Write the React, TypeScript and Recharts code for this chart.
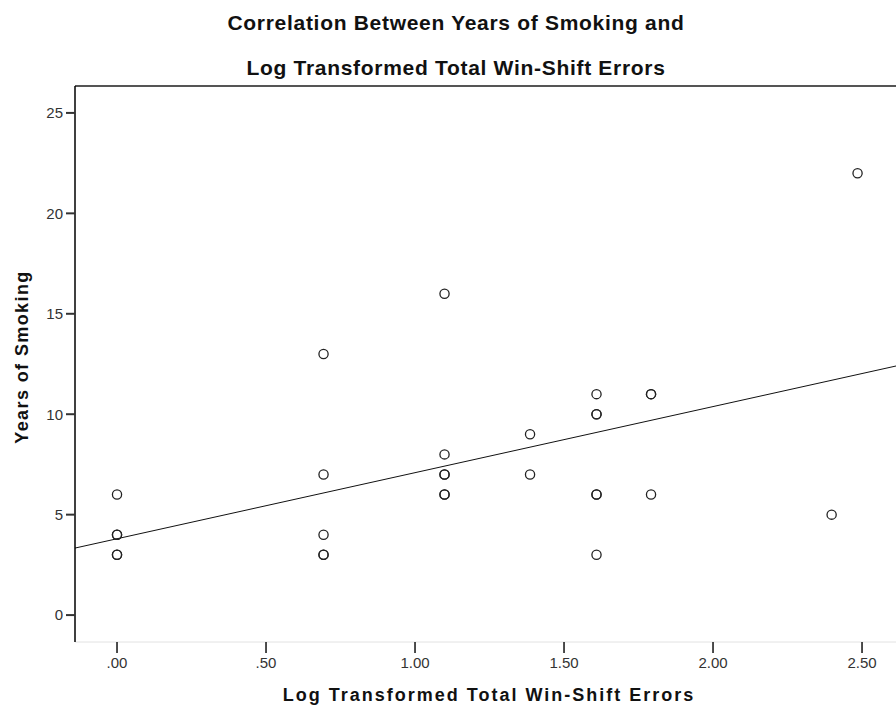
import { ScatterChart, Scatter, XAxis, YAxis, ReferenceLine } from "recharts";

// log-transformed total win-shift errors (ln of raw error count)
const logErrors = [
  0, 0, 0, 0, 0,
  0.693, 0.693, 0.693, 0.693, 0.693,
  1.099, 1.099, 1.099, 1.099, 1.099, 1.099,
  1.386, 1.386,
  1.609, 1.609, 1.609, 1.609, 1.609, 1.609,
  1.792, 1.792, 1.792,
  2.398,
  2.485,
];
const yearsSmoking = [
  6, 4, 4, 3, 3,
  13, 7, 4, 3, 3,
  16, 8, 7, 7, 6, 6,
  9, 7,
  11, 10, 10, 6, 6, 3,
  11, 11, 6,
  5,
  22,
];

const xTicks = [0, 0.5, 1, 1.5, 2, 2.5];
const yTicks = [0, 5, 10, 15, 20, 25];
const xDomain: [number, number] = [-0.141, 2.614];
const yDomain: [number, number] = [-1.34, 26.34];

// linear fit line
const fitIntercept = 3.8;
const fitSlope = 3.29;

const points = logErrors.map((x, i) => ({ x, y: yearsSmoking[i] }));
const fitSegment = xDomain.map((x) => ({ x, y: fitIntercept + fitSlope * x }));

const fmtX = (v: number) => {
  const s = v.toFixed(2);
  return s.startsWith("0") ? s.slice(1) : s;
};

const Ring = (props: any) => {
  const { cx, cy } = props;
  if (cx == null || cy == null) return null;
  return <circle cx={cx} cy={cy} r={4.6} fill="none" stroke="#222" strokeWidth={1.3} />;
};

const font = "'Liberation Sans', Arial, sans-serif";

export default function App() {
  return (
    <div style={{ position: "absolute", left: 0, top: 0, width: 896, height: 711, background: "#fff", fontFamily: font }}>
      <ScatterChart width={896} height={711} margin={{ top: 86, right: 0, bottom: 0, left: 0 }}>
        <XAxis
          type="number"
          dataKey="x"
          domain={xDomain}
          ticks={xTicks}
          tickFormatter={fmtX}
          allowDataOverflow
          height={69}
          axisLine={{ stroke: "#e2e2e2", strokeWidth: 1 }}
          tickLine={{ stroke: "#111", strokeWidth: 1.5 }}
          tickSize={11}
          tickMargin={4}
          tick={{ fill: "#333", fontSize: 15, fontFamily: font }}
        />
        <YAxis
          type="number"
          dataKey="y"
          domain={yDomain}
          ticks={yTicks}
          allowDataOverflow
          width={75}
          axisLine={{ stroke: "#000", strokeWidth: 1.5 }}
          tickLine={{ stroke: "#333", strokeWidth: 2 }}
          tickSize={9}
          tickMargin={3}
          tick={{ fill: "#333", fontSize: 15, fontFamily: font }}
        />
        <ReferenceLine y={yDomain[1]} stroke="#555" strokeWidth={2} ifOverflow="visible" />
        <ReferenceLine
          segment={fitSegment}
          stroke="#111"
          strokeWidth={1}
          ifOverflow="hidden"
        />
        <Scatter data={points} shape={<Ring />} isAnimationActive={false} />
      </ScatterChart>
      <div style={{ position: "absolute", left: 0, width: 912, top: 0, textAlign: "center", fontSize: 21, color: "#111", fontWeight: 700, letterSpacing: 0.7, lineHeight: "45px" }}>
        <div>Correlation Between Years of Smoking and</div>
        <div>Log Transformed Total Win-Shift Errors</div>
      </div>
      <div style={{ position: "absolute", left: 0, width: 978, top: 685, textAlign: "center", fontSize: 18, fontWeight: 700, color: "#111", letterSpacing: 2 }}>
        Log Transformed Total Win-Shift Errors
      </div>
      <div
        style={{
          position: "absolute",
          left: 22,
          top: 357,
          transform: "translate(-50%, -50%) rotate(-90deg)",
          whiteSpace: "nowrap",
          fontSize: 18,
          fontWeight: 700,
          color: "#111",
          letterSpacing: 1.4,
        }}
      >
        Years of Smoking
      </div>
    </div>
  );
}
